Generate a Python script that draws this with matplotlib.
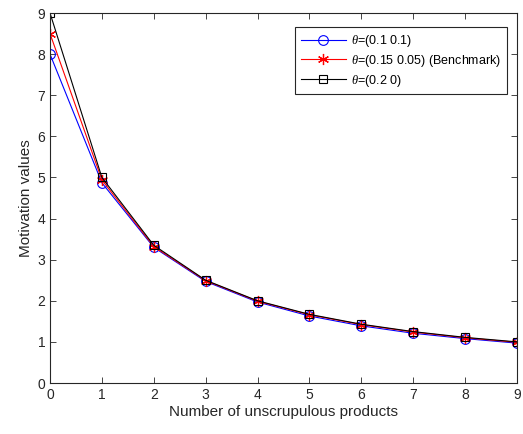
import matplotlib
matplotlib.use("Agg")
import matplotlib.pyplot as plt

plt.rcParams['font.family'] = ['Liberation Sans', 'DejaVu Sans']
plt.rcParams['mathtext.fontset'] = 'custom'
plt.rcParams['mathtext.it'] = 'Liberation Serif:italic'

x = list(range(10))
blue_vals = [8.0, 4.87, 3.30, 2.47, 1.97, 1.63, 1.39, 1.21, 1.08, 0.97]
red_vals = [8.5, 4.94, 3.32, 2.49, 1.99, 1.66, 1.42, 1.24, 1.10, 0.99]
black_vals = [9.0, 5.0, 3.35, 2.50, 2.00, 1.67, 1.43, 1.25, 1.11, 1.00]
labels = [r'$\theta$=(0.1 0.1)', r'$\theta$=(0.15 0.05) (Benchmark)', r'$\theta$=(0.2 0)']
xticks = list(range(10))
yticks = list(range(10))

fig = plt.figure(figsize=(5.23, 4.34), dpi=100)
ax = fig.add_axes([0.0956, 0.1175, 0.893, 0.8525])

ax.plot(x, blue_vals, color='#0000ff', marker='o', markersize=7, markerfacecolor='none',
        markeredgecolor='#0000ff', markeredgewidth=0.8, linewidth=0.8, label=labels[0])
ax.plot(x, red_vals, color='#ff0000', marker=(6, 2, 0), markersize=8,
        markeredgecolor='#ff0000', markeredgewidth=0.9, linewidth=0.8, label=labels[1])
ax.plot(x, black_vals, color='black', marker='s', markersize=6, markerfacecolor='none',
        markeredgecolor='black', markeredgewidth=0.8, linewidth=0.8, label=labels[2])

ax.set_xlim(0, 9)
ax.set_ylim(0, 9)
ax.set_xticks(xticks)
ax.set_yticks(yticks)
ax.tick_params(direction='in', length=4, width=0.6, labelsize=10, colors='#262626',
               top=True, right=True, labeltop=False, labelright=False)
for s in ax.spines.values():
    s.set_linewidth(0.8)
    s.set_color('#262626')
ax.set_xlabel('Number of unscrupulous products', fontsize=11, color='#262626', labelpad=2)
ax.set_ylabel('Motivation values', fontsize=11, color='#262626', labelpad=3)

leg = ax.legend(loc='upper right', bbox_to_anchor=(0.991, 0.978), fontsize=9,
                fancybox=False, edgecolor='#262626', framealpha=1, borderpad=0.45,
                labelspacing=0.3, handlelength=3.6, handletextpad=0.4)
leg.get_frame().set_linewidth(0.8)

fig.savefig('out.png', dpi=100)
